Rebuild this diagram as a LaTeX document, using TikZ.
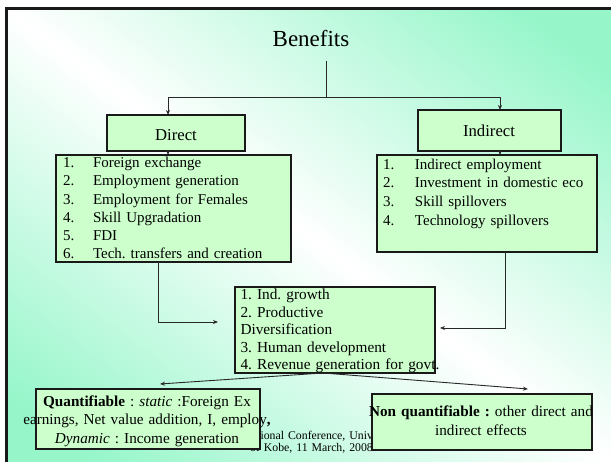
\documentclass[tikz,border=0pt]{standalone}
\usepackage{fontspec}
\setmainfont{Liberation Serif}
\usetikzlibrary{arrows.meta,calc}
\definecolor{bgGreen}{RGB}{150,246,202}
\definecolor{boxGreen}{RGB}{204,255,204}
\definecolor{inkGray}{RGB}{40,40,40}
\begin{document}
\frenchspacing
\begin{tikzpicture}[x=1pt,y=-1pt,
  panel/.style={draw=black!90, line width=1.4pt, fill=boxGreen, anchor=north west,
                inner sep=0pt, outer sep=0pt},
  link/.style={draw=inkGray, line width=0.9pt},
  arrowlink/.style={link, -{Stealth[length=5pt,width=4pt]}},
  plain/.style={inner sep=0pt, outer sep=0pt},
  body/.style={plain, font=\fontsize{15}{18.3}\selectfont},
]
\useasboundingbox (0,0) rectangle (611,462);
% slide background: white diagonal band between green corners
\fill[white] (0,0) rectangle (611,462);
\begin{scope}
  \clip (7,10) rectangle (611,462);
  \shade[top color=bgGreen, bottom color=bgGreen, middle color=white, shading angle=-36.8]
    (-1,-74) rectangle (619,546);
\end{scope}
\draw[black!90, line width=2.6pt] (6.2,462) -- (6.2,8.7) -- (611,8.7);

% footer line, partly covered by the lower boxes
\node[plain, font=\fontsize{11.8}{12}\selectfont, align=center, text width=200pt, anchor=base]
  (footer) at (311.5,440) {International Conference, University\\of Kobe, 11 March, 2008};

% boxes
\node[panel, minimum width=138pt, minimum height=36pt] (direct) at (107,115) {};
\node[panel, minimum width=143pt, minimum height=41pt] (indirect) at (418,110) {};
\node[panel, minimum width=235pt, minimum height=107pt] (directlist) at (56,155) {};
\node[panel, minimum width=220pt, minimum height=97pt] (indirectlist) at (377,155) {};
\node[panel, minimum width=200pt, minimum height=86pt] (outcomes) at (235,287) {};
\node[panel, minimum width=224pt, minimum height=60pt] (quant) at (36,389) {};
\node[panel, minimum width=220pt, minimum height=56pt] (nonquant) at (372,394) {};

% connectors
\coordinate (stem) at (326,61);
\coordinate (split) at (326,97);
\draw[link] (stem) -- (split);
\draw[arrowlink] (split) -| ($(direct.north west)+(61,0)$);
\draw[arrowlink] (split) -| ($(indirect.north west)+(82,0)$);
\draw[arrowlink] ($(direct.south west)+(61,0)$) -- ($(directlist.north west)+(112,0)$);
\draw[arrowlink] ($(indirect.south west)+(82,0)$) -- ($(indirectlist.north west)+(123,0)$);
\coordinate (inL) at ($(outcomes.west)+(-17,-8)$);
\coordinate (inR) at ($(outcomes.east)+(5,-2)$);
\draw[arrowlink] ($(directlist.south west)+(102,0)$) |- (inL);
\draw[arrowlink] ($(indirectlist.south west)+(128,0)$) |- (inR);
\coordinate (fork) at ($(outcomes.south west)+(88,0)$);
\coordinate (qtip) at ($(quant.north west)+(124,-5)$);
\coordinate (ntip) at ($(nonquant.north west)+(156,-5)$);
\draw[arrowlink] (fork) -- (qtip);
\draw[arrowlink] (fork) -- (ntip);

% texts
\node[plain, font=\fontsize{23}{26}\selectfont, anchor=base] (title) at (311,47) {Benefits};
\node[plain, font=\fontsize{16.7}{20}\selectfont, anchor=base] (directlabel) at (176,141) {Direct};
\node[plain, font=\fontsize{16.7}{20}\selectfont, anchor=base] (indirectlabel) at (489,137) {Indirect};

\node[body, anchor=base west, text width=225pt, align=left] (directitems) at (63,167.5)
  {\makebox[30pt][l]{1.}Foreign exchange\\
   \makebox[30pt][l]{2.}Employment generation\\
   \makebox[30pt][l]{3.}Employment for Females\\
   \makebox[30pt][l]{4.}Skill Upgradation\\
   \makebox[30pt][l]{5.}FDI\\
   \makebox[30pt][l]{6.}Tech. transfers and creation};

\node[body, font=\fontsize{15}{18.7}\selectfont, anchor=base west, text width=210pt, align=left]
  (indirectitems) at (383,169.3)
  {\makebox[32pt][l]{1.}Indirect employment\\
   \makebox[32pt][l]{2.}Investment in domestic eco\\
   \makebox[32pt][l]{3.}Skill spillovers\\
   \makebox[32pt][l]{4.}Technology spillovers};

\node[body, font=\fontsize{15.3}{17.6}\selectfont, anchor=base west, text width=260pt, align=left]
  (outcomeitems) at (240.5,299.5)
  {1. Ind. growth\\2. Productive\\Diversification\\3. Human development\\4. Revenue generation for govt.};

\node[body, font=\fontsize{15.2}{18.3}\selectfont, anchor=base, text width=280pt, align=center]
  (quanttext) at (147,406.7)
  {\textbf{Quantifiable} : \textit{static} :Foreign Ex\\
   earnings, Net value addition, I, employ\textbf{,}\\
   \textit{Dynamic} : Income generation};

\node[body, font=\fontsize{15.2}{19}\selectfont, anchor=base, text width=240pt, align=center]
  (nonquanttext) at (481,416.7)
  {\textbf{Non quantifiable :} other direct and\\indirect effects};
\end{tikzpicture}
\end{document}
